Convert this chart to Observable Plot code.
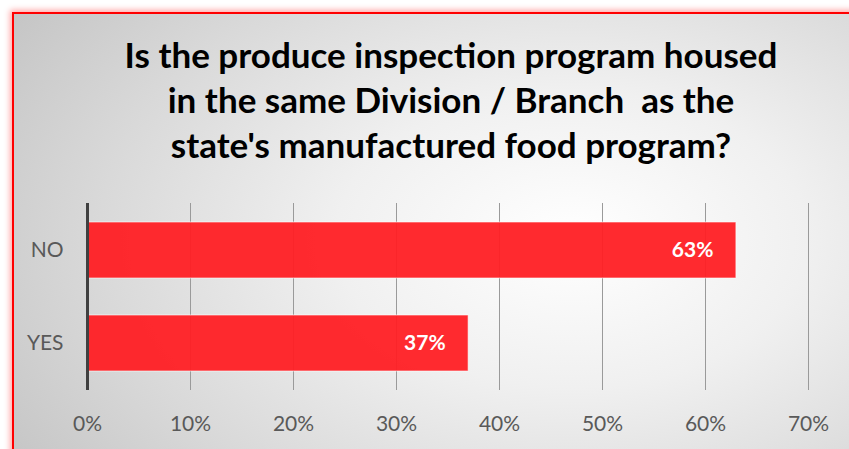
<!DOCTYPE html>
<html>
<head>
<meta charset="utf-8">
<script src="https://cdn.jsdelivr.net/npm/d3@7"></script>
<script src="https://cdn.jsdelivr.net/npm/@observablehq/plot@0.6"></script>
<style>
  html, body { margin: 0; padding: 0; width: 849px; height: 449px; overflow: hidden; background: #ffffff; }
  #frame {
    position: absolute; left: 12px; top: 12px; width: 900px; height: 500px;
    border-left: 2px solid #ff0000; border-top: 2px solid #ff0000;
    box-shadow: 0 0 6px 2px rgba(255,0,0,0.35);
    background: radial-gradient(ellipse 75% 85% at 62% 45%, #ffffff 0%, #f0f0f0 35%, #d9d9d9 70%, #c4c4c4 100%);
  }
  #title {
    position: absolute; left: 0; top: 32px; width: 902px; text-align: center;
    font-family: Lato, "Open Sans", sans-serif; font-weight: bold; font-size: 35px;
    line-height: 45px; color: #000;
  }
  #chart { position: absolute; left: 0; top: 190px; }
</style>
</head>
<body>
<div id="frame"></div>
<div id="title">Is the produce inspection program housed<br>in the same Division / Branch&nbsp; as the<br>state's manufactured food program?</div>
<div id="chart"></div>
<script>
const categories = ["NO", "YES"];
const values = [0.63, 0.37];
const labels = ["63%", "37%"];
const ticks = [0, 0.1, 0.2, 0.3, 0.4, 0.5, 0.6, 0.7];

const data = categories.map((c, i) => ({category: c, value: values[i], label: labels[i]}));

const chart = Plot.plot({
  width: 849,
  height: 259,
  marginLeft: 87,
  marginRight: 41,
  marginTop: 13,
  marginBottom: 59,
  style: {background: "transparent", fontFamily: "Lato, 'Open Sans', sans-serif", fontSize: "21px", color: "#595959", overflow: "visible"},
  x: {domain: [0, 0.7], ticks: ticks, tickFormat: d => Math.round(d * 100) + "%", label: null},
  y: {domain: categories, paddingInner: 0.4, paddingOuter: 0.2, label: null},
  marks: [
    Plot.gridX(ticks.slice(1), {stroke: "#9a9a9a", strokeOpacity: 1, strokeWidth: 1}),
    Plot.barX(data, {x: "value", y: "category", fill: "#ff1f24", fillOpacity: 0.95, stroke: "#ffffff", strokeOpacity: 0.6, strokeWidth: 1}),
    Plot.text(data, {x: "value", y: "category", text: "label", textAnchor: "end", dx: -23, fill: "#ffffff", fontWeight: "bold", fontSize: 21}),
    Plot.ruleX([0], {stroke: "#404040", strokeWidth: 3}),
    Plot.axisX({ticks: ticks, tickFormat: d => Math.round(d * 100) + "%", tickSize: 0, tickPadding: 26, fill: "#595959", fontSize: 21, label: null}),
    Plot.axisY({tickSize: 0, tickPadding: 24, fill: "#595959", fontSize: 21, label: null})
  ]
});
document.getElementById("chart").appendChild(chart);
</script>
</body>
</html>
